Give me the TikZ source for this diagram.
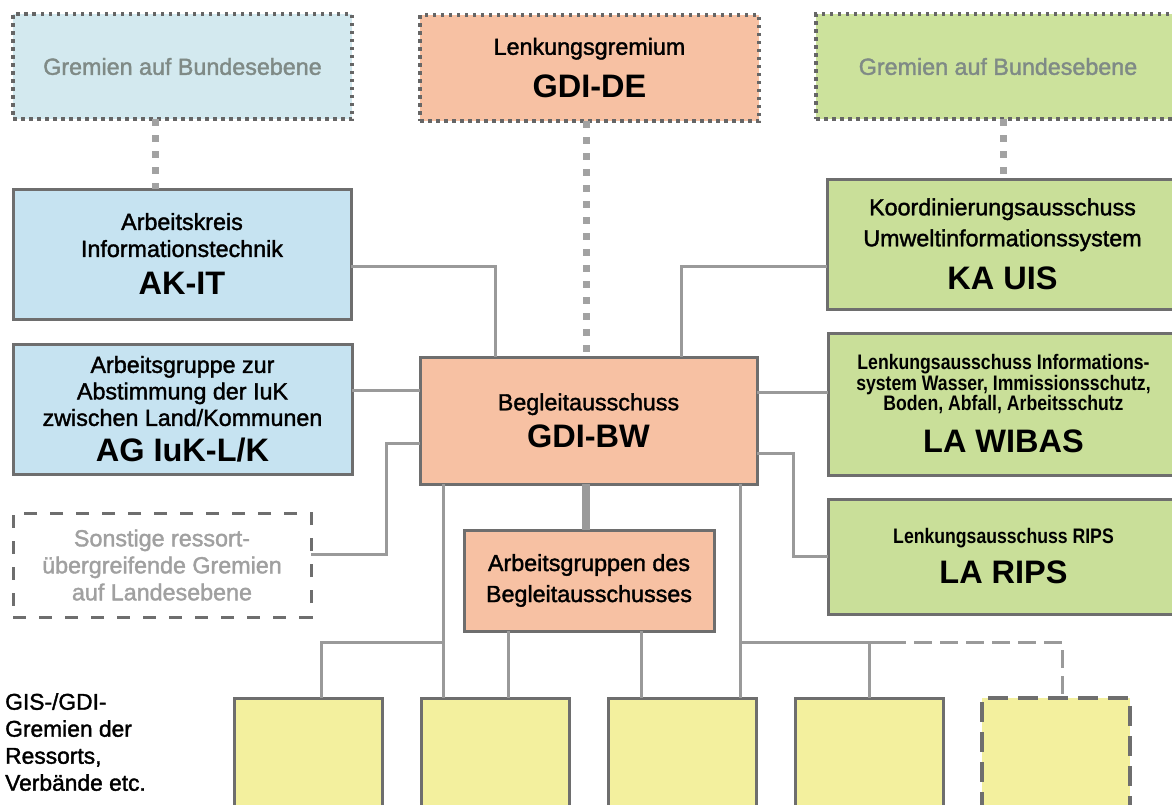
\documentclass[tikz,border=0pt]{standalone}
\usepackage{fontspec}
\setmainfont{Liberation Sans}
\newfontfamily\medfont[FakeBold=1.6]{Liberation Sans}
\newfontfamily\narrowfont[FakeStretch=0.84]{Liberation Sans}
\definecolor{bordergray}{HTML}{6E6E6E}
\definecolor{dotbordergray}{HTML}{666666}
\definecolor{conngray}{HTML}{9A9A9A}
\definecolor{dotgray}{HTML}{A2A2A2}
\definecolor{graytxt}{HTML}{7F8A86}
\definecolor{lightgraytxt}{HTML}{A0A0A0}
\definecolor{bluetop}{HTML}{D3E9EF}
\definecolor{bluebox}{HTML}{C6E3F1}
\definecolor{salmon}{HTML}{F7C1A3}
\definecolor{greentop}{HTML}{CCE29C}
\definecolor{greenbox}{HTML}{C9DF99}
\definecolor{yellowbox}{HTML}{F3F09E}
\newcommand{\regfont}{\medfont\fontsize{23.3}{27}\selectfont\lineskiplimit=-100pt\relax}
\newcommand{\agfont}{\medfont\fontsize{23.3}{26.5}\selectfont\lineskiplimit=-100pt\relax}
\newcommand{\gisfont}{\medfont\fontsize{22.8}{27}\selectfont}
\newcommand{\narrowbold}{\narrowfont\bfseries\fontsize{21}{20.5}\selectfont\lineskiplimit=-100pt\relax}
\newcommand{\titlefont}{\rmfamily\fontsize{32.5}{36}\selectfont\bfseries}
\begin{document}
\begin{tikzpicture}[x=1pt,y=-1pt,
  box/.style={draw=bordergray, line width=3pt, inner sep=0pt, outer sep=0pt, anchor=north west, align=center, font=\regfont, text=black},
  dotbox/.style={box, draw=dotbordergray, line width=3.5pt, dash pattern=on 3.5pt off 4.5pt},
  dashbox/.style={box, dash pattern=on 13pt off 13pt},
  ybox/.style={box, fill=yellowbox, minimum width=148pt, minimum height=120pt},
  conn/.style={draw=conngray, line width=3pt},
  thickconn/.style={draw=conngray, line width=8pt},
  dotconn/.style={draw=dotgray, line width=7pt, dash pattern=on 7pt off 9pt},
  dashconn/.style={draw=conngray, line width=3pt, dash pattern=on 18pt off 8pt}
]
\useasboundingbox (0,0) rectangle (1172,804);
\clip (0,0) rectangle (1172,804);
\fill[white] (0,0) rectangle (1172,804);

% top row
\node[dotbox, fill=bluetop, minimum width=339pt, minimum height=105pt, text=graytxt] (topL) at (13,14) {Gremien auf Bundesebene};
\node[dotbox, fill=salmon, minimum width=339pt, minimum height=106pt] (topM) at (420,15) {Lenkungsgremium\\[16pt]{\titlefont GDI-DE}};
\node[dotbox, fill=greentop, minimum width=364pt, minimum height=105pt, text=graytxt] (topR) at (816,14) {Gremien auf Bundesebene};

% left column
\node[box, fill=bluebox, minimum width=338pt, minimum height=130pt] (akit) at (13,189) {Arbeitskreis\\Informationstechnik\\[11pt]{\titlefont AK-IT}};
\node[box, fill=bluebox, minimum width=339pt, minimum height=130pt, font=\agfont] (agiuk) at (13,344) {Arbeitsgruppe zur\\Abstimmung der IuK\\zwischen Land/Kommunen\\[9pt]{\titlefont AG IuK-L/K}};
\node[dashbox, fill=white, minimum width=298pt, minimum height=104pt, text=lightgraytxt] (sonst) at (13,513) {Sonstige ressort-\\übergreifende Gremien\\auf Landesebene};

% centre
\node[box, fill=salmon, minimum width=337pt, minimum height=127pt] (begl) at (420,357) {Begleitausschuss\\[10pt]{\titlefont GDI-BW}};
\node[box, fill=salmon, minimum width=250pt, minimum height=101pt] (arbg) at (464,530) {Arbeitsgruppen des\\[4pt]Begleitausschusses};

% right column
\node[box, fill=greenbox, minimum width=351pt, minimum height=130pt] (kauis) at (827,179) {Koordinierungsausschuss\\[4pt]Umweltinformationssystem\\[16pt]{\titlefont KA UIS}};
\node[box, fill=greenbox, minimum width=351pt, minimum height=142pt, font=\narrowbold] (wibas) at (828,333) {Lenkungsausschuss Informations-\\system Wasser, Immissionsschutz,\\Boden, Abfall, Arbeitsschutz\\[21.5pt]{\titlefont LA WIBAS}};
\node[box, fill=greenbox, minimum width=351pt, minimum height=115pt, font=\narrowbold] (rips) at (828,499) {Lenkungsausschuss RIPS\\[19.5pt]{\titlefont LA RIPS}};

% bottom row
\node[ybox] (y1) at (234,698) {};
\node[ybox] (y2) at (421,698) {};
\node[ybox] (y3) at (608,698) {};
\node[ybox] (y4) at (795,698) {};
\node[ybox, dash pattern=on 20pt off 10pt, line width=4pt] (y5) at (982,698) {};

\node[anchor=north west, align=left, inner sep=0pt, font=\gisfont] (gis) at (5,693) {GIS-/GDI-\\Gremien der\\Ressorts,\\Verbände etc.};

% helper coordinates
\coordinate (xL) at (155,0);
\coordinate (xM) at (586,0);
\coordinate (xR) at (1003,0);
\coordinate (cA) at (495,266);
\coordinate (cK) at (681,266);
\coordinate (yAG) at (0,390);
\coordinate (ySo) at (0,554);
\coordinate (cSo) at (386,443);
\coordinate (yWi) at (0,392);
\coordinate (cRi) at (793,453);
\coordinate (cRi2) at (793,556);
\coordinate (bL) at (443,642);
\coordinate (x1) at (321,0);
\coordinate (x2) at (508,0);
\coordinate (x3) at (641,0);
\coordinate (bR) at (740,642);
\coordinate (x4) at (869,0);
\coordinate (dS) at (888,642);
\coordinate (x5) at (1062,0);

% dotted links to federal level
\draw[dotconn] (topL.south -| xL) -- (akit.north -| xL);
\draw[dotconn] (topM.south -| xM) -- (begl.north -| xM);
\draw[dotconn] (topR.south -| xR) -- (kauis.north -| xR);

% connectors
\draw[conn] (akit.east |- cA) -| (begl.north -| cA);
\draw[conn] (kauis.west |- cK) -| (begl.north -| cK);
\draw[conn] (agiuk.east |- yAG) -- (begl.west |- yAG);
\draw[conn] (sonst.east |- ySo) -| (cSo) -- (begl.west |- cSo);
\draw[conn] (begl.east |- yWi) -- (wibas.west |- yWi);
\draw[conn] (begl.east |- cRi) -- (cRi) -- (cRi2) -- (rips.west |- cRi2);
\draw[thickconn] (begl.south -| xM) -- (arbg.north -| xM);

\draw[conn] (begl.south -| bL) -- (y2.north -| bL);
\draw[conn] (bL) -| (y1.north -| x1);
\draw[conn] (arbg.south -| x2) -- (y2.north -| x2);
\draw[conn] (arbg.south -| x3) -- (y3.north -| x3);
\draw[conn] (begl.south -| bR) -- (y3.north -| bR);
\draw[conn] (bR) -| (y4.north -| x4);
\draw[conn] (bR) -- (dS);
\draw[dashconn] (dS) -| (y5.north -| x5);
\end{tikzpicture}
\end{document}
